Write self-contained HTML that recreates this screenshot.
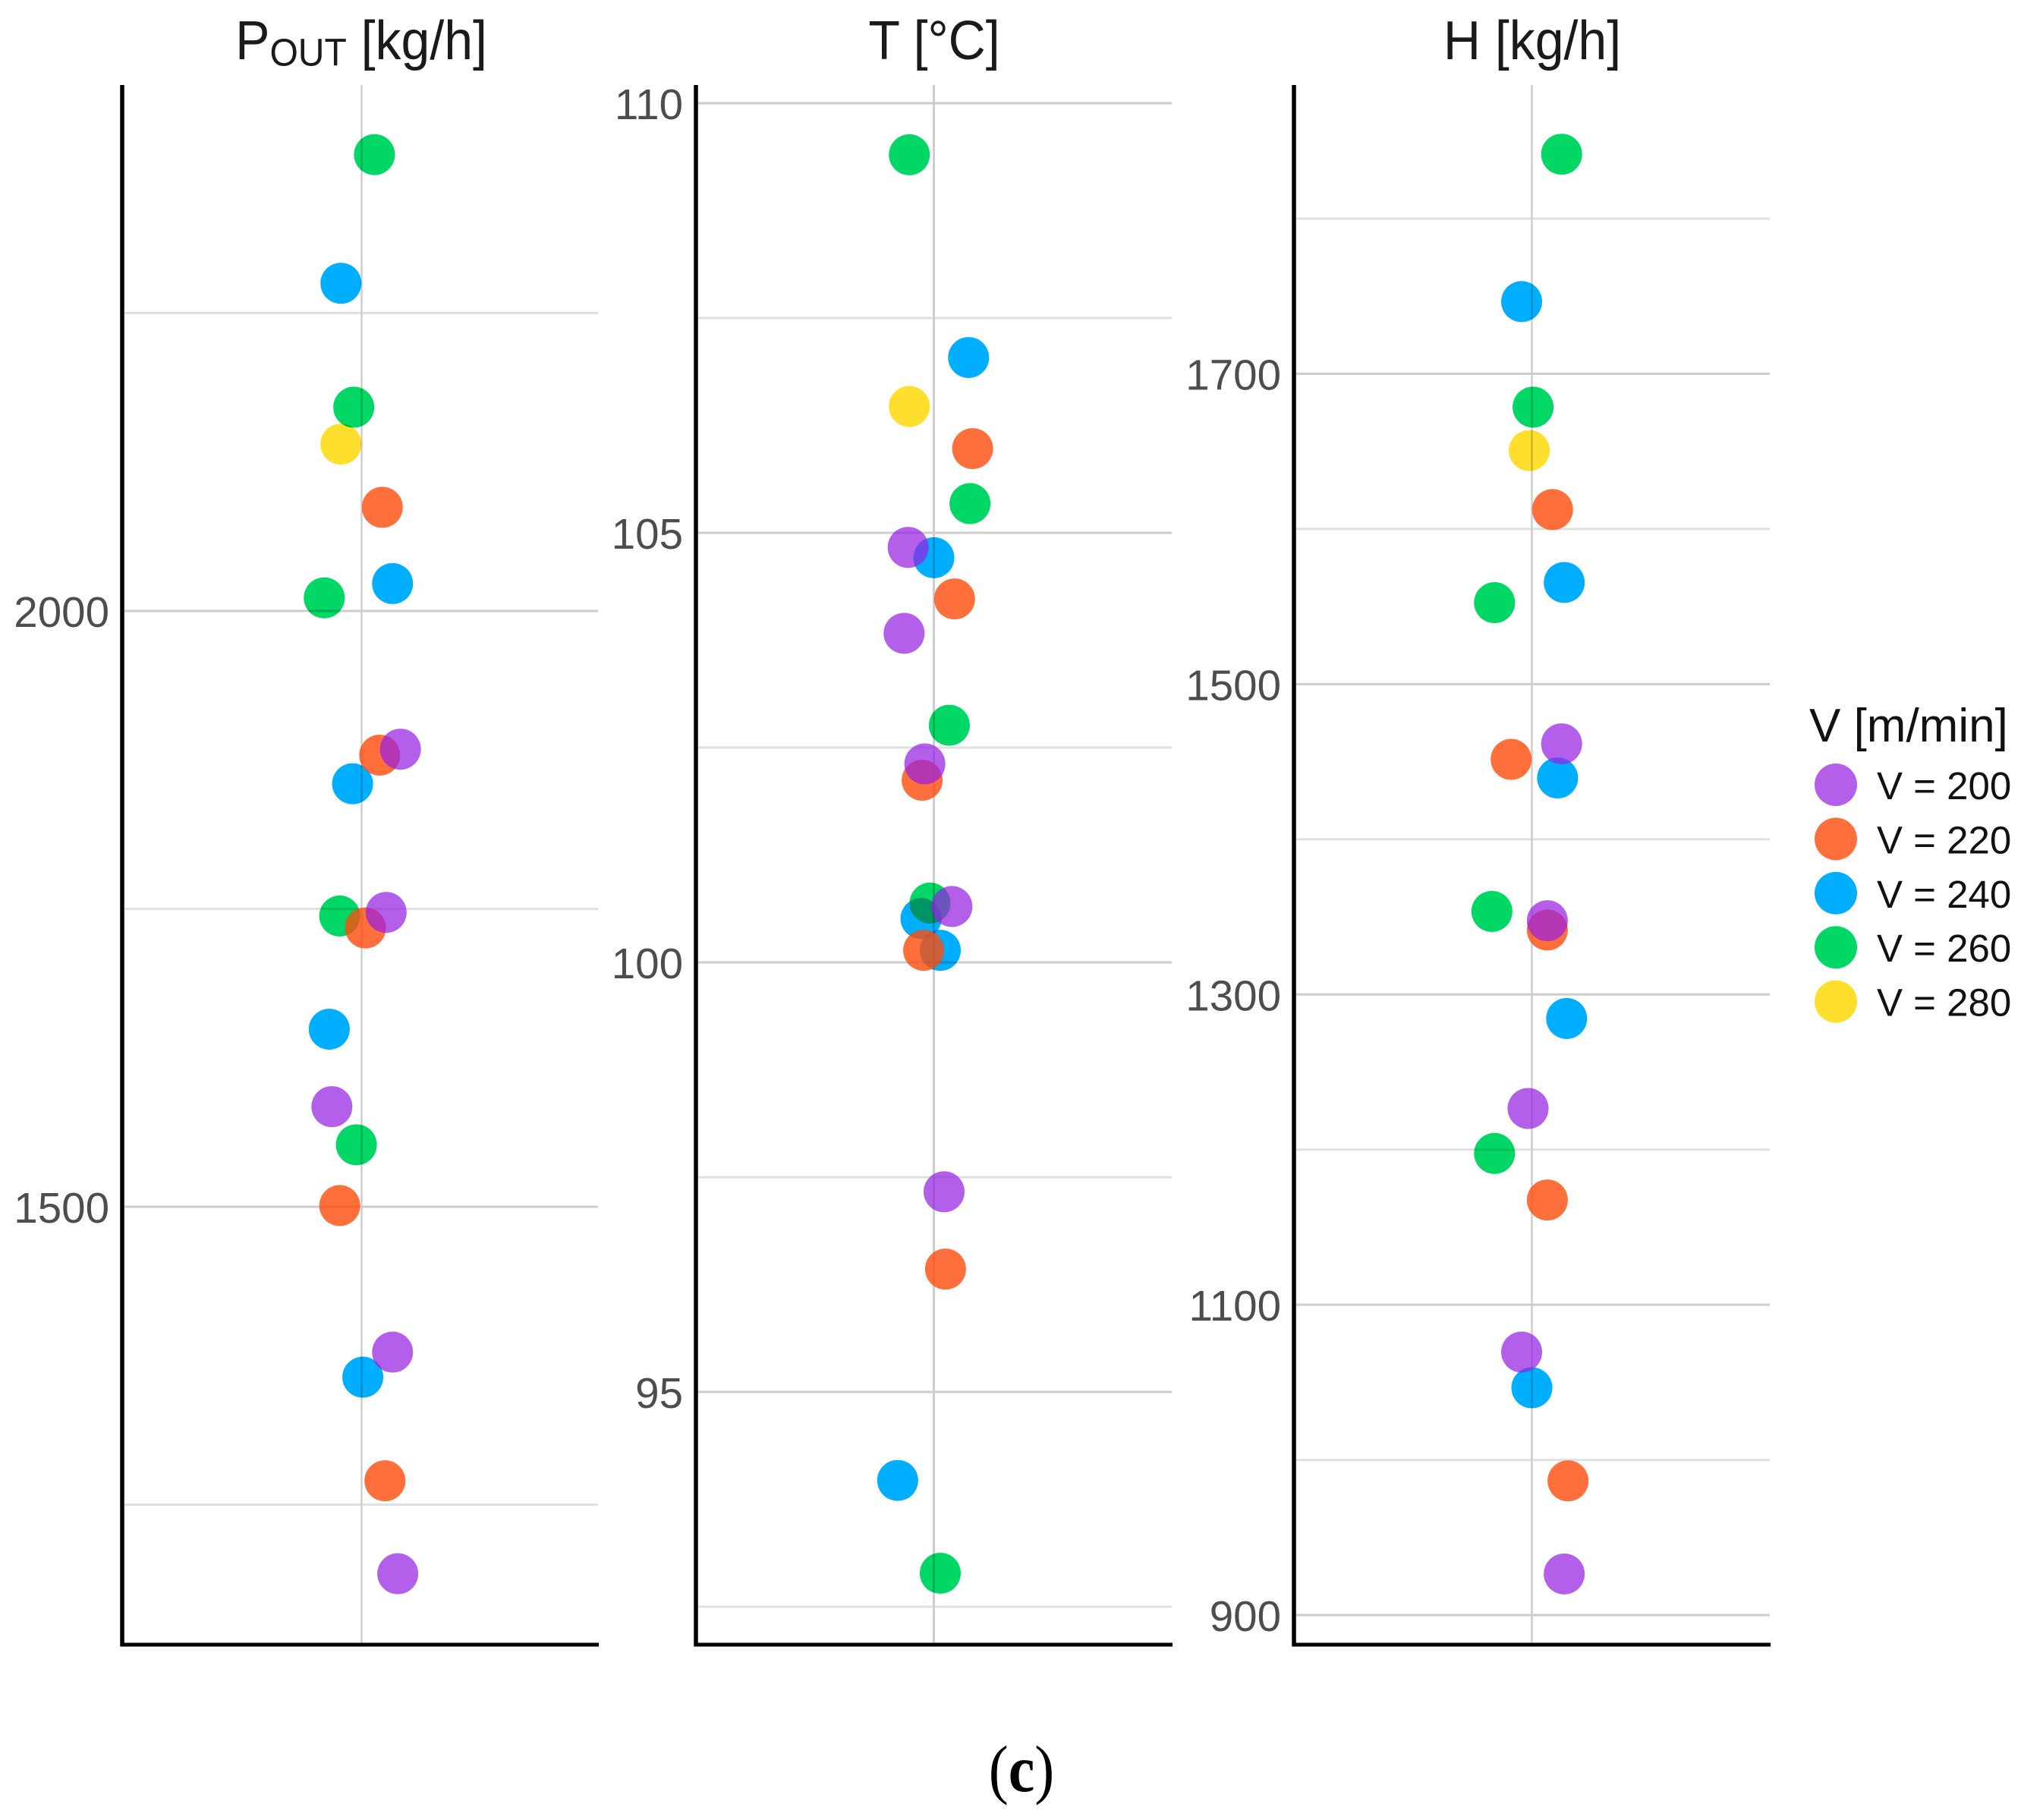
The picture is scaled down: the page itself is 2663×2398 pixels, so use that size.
<!DOCTYPE html>
<html>
<head>
<meta charset="utf-8">
<title>Strip plots by V</title>
<style>
html,body{margin:0;padding:0;background:#fff;}
svg{display:block;}
text{font-family:"Liberation Sans",sans-serif;}
</style>
</head>
<body>
<svg id="chart" xmlns="http://www.w3.org/2000/svg" width="2663" height="2398" viewBox="0 0 2663 2398">
<rect width="2663" height="2398" fill="#fff"/>
<text transform="translate(476,78) scale(1,1.06)" text-anchor="middle" font-size="68" fill="#1a1a1a">P<tspan font-size="48" dy="8">OUT</tspan><tspan dy="-8"> [kg/h]</tspan></text>
<text transform="translate(1231,78) scale(1,1.06)" text-anchor="middle" font-size="68" fill="#1a1a1a">T [°C]</text>
<text transform="translate(2019,78) scale(1,1.06)" text-anchor="middle" font-size="68" fill="#1a1a1a">H [kg/h]</text>
<text x="2384" y="977" font-size="62" fill="#111">V [m/min]</text>
<text transform="translate(1346,2360) scale(1,1.12)" text-anchor="middle" font-size="78" fill="#000" style="font-family:'Liberation Serif',serif">(<tspan font-weight="bold">c</tspan>)</text>
<g id="panels" style="isolation:isolate"></g>
<g id="legend"></g>
</svg>
<script>
// Speed levels and colours
const speeds = [200, 220, 240, 260, 280];
const speedColors = ['#9721e2', '#ff4b0b', '#00aeff', '#00d764', '#ffdf2e'];
const speedAlpha = [0.72, 0.8, 1, 1, 1];
const speedBlend = ['normal', 'normal', 'multiply', 'multiply', 'multiply'];

// P_OUT panel
const pOutMajorTicks = [2000, 1500];
const pOutMinorTicks = [2250, 1750, 1250];
const pOutV200 = [1884, 1747, 1584, 1378, 1192];
const pOutV200Jitter = [0.163, 0.103, -0.125, 0.130, 0.152];
const pOutV220 = [2087, 1879, 1734, 1501, 1270];
const pOutV220Jitter = [0.087, 0.076, 0.016, -0.092, 0.098];
const pOutV240 = [2275, 2023, 1855, 1649, 1357];
const pOutV240Jitter = [-0.087, 0.130, -0.038, -0.136, 0.005];
const pOutV260 = [2383, 2171, 2011, 1744, 1552];
const pOutV260Jitter = [0.054, -0.033, -0.157, -0.092, -0.022];
const pOutV280 = [2140];
const pOutV280Jitter = [-0.087];

// T panel
const tMajorTicks = [110, 105, 100, 95];
const tMinorTicks = [107.5, 102.5, 97.5, 92.5];
const tV200 = [104.83, 103.83, 102.31, 100.65, 97.33];
const tV200Jitter = [-0.108, -0.125, -0.038, 0.076, 0.043];
const tV220 = [105.98, 104.23, 102.12, 100.14, 96.43];
const tV220Jitter = [0.163, 0.087, -0.049, -0.043, 0.049];
const tV240 = [107.04, 104.71, 100.51, 100.14, 93.97];
const tV240Jitter = [0.146, 0, -0.054, 0.027, -0.152];
const tV260 = [109.40, 105.34, 102.76, 100.69, 92.89];
const tV260Jitter = [-0.103, 0.152, 0.065, -0.016, 0.027];
const tV280 = [106.47];
const tV280Jitter = [-0.103];

// H panel
const hMajorTicks = [1700, 1500, 1300, 1100, 900];
const hMinorTicks = [1800, 1600, 1400, 1200, 1000];
const hV200 = [1461.5, 1347.5, 1226.5, 1069.5, 926.5];
const hV200Jitter = [0.125, 0.065, -0.016, -0.043, 0.136];
const hV220 = [1612.5, 1451.5, 1341.5, 1167.5, 986.5];
const hV220Jitter = [0.087, -0.087, 0.065, 0.065, 0.152];
const hV240 = [1746.5, 1565.5, 1439.5, 1284.5, 1046.5];
const hV240Jitter = [-0.043, 0.136, 0.108, 0.146, 0];
const hV260 = [1841.5, 1678.5, 1552.5, 1353.5, 1197.5];
const hV260Jitter = [0.125, 0.005, -0.157, -0.168, -0.157];
const hV280 = [1650.5];
const hV280Jitter = [-0.011];

const NS = 'http://www.w3.org/2000/svg';
const plotTop = 112, plotBottom = 2167, plotWidth = 627, dotRadius = 27;

function make(parent, tag, attrs) {
  const el = document.createElementNS(NS, tag);
  for (const k in attrs) el.setAttribute(k, attrs[k]);
  parent.appendChild(el);
  return el;
}

function linearScale(d0, d1, r0, r1) {
  return v => r0 + (v - d0) * (r1 - r0) / (d1 - d0);
}

function drawPanel(cfg) {
  const g = make(document.getElementById('panels'), 'g', {});
  
  
  const left = cfg.left, right = left + plotWidth;
  const x = linearScale(-1, 1, left + cfg.shift, right + cfg.shift);
  const y = linearScale(cfg.calib[0], cfg.calib[1], cfg.calib[2], cfg.calib[3]);

  cfg.minor.forEach(t => {
    const l = make(g, 'line', {x1: left + 3, x2: right, y1: y(t), y2: y(t), stroke: '#e0e0e0', 'stroke-width': 3});
    
    
  });
  cfg.major.forEach(t => {
    const l = make(g, 'line', {x1: left + 3, x2: right, y1: y(t), y2: y(t), stroke: '#cdcdcd', 'stroke-width': 3});
    
    
    const txt = make(g, 'text', {x: left - 17, y: y(t) + 21, 'text-anchor': 'end', 'font-size': 56.5, fill: '#4d4d4d'});
    
    
    txt.textContent = t;
  });
  const v = make(g, 'line', {x1: x(0), x2: x(0), y1: plotTop, y2: plotBottom, stroke: '#cdcdcd', 'stroke-width': cfg.midWidth});
  
  
  const ya = make(g, 'line', {x1: left, x2: left, y1: plotTop, y2: plotBottom + 2.5, stroke: '#000', 'stroke-width': 5.5});
  
  
  const xa = make(g, 'line', {x1: left, x2: right + 1, y1: plotBottom, y2: plotBottom, stroke: '#000', 'stroke-width': 5});
  
  

  for (let s = speeds.length - 1; s >= 0; s--) {
    const vals = cfg.values[s], jit = cfg.jitter[s];
    vals.forEach((val, i) => {
      const c = make(g, 'circle', {cx: x(jit[i]), cy: y(val), r: dotRadius, fill: speedColors[s], 'fill-opacity': speedAlpha[s]});
      c.style.mixBlendMode = speedBlend[s];
      
      
    });
  }
}

drawPanel({
  name: 'pout', left: 161, shift: 2, midWidth: 2.5, calib: [2000, 1500, 805, 1590],
  major: pOutMajorTicks, minor: pOutMinorTicks,
  values: [pOutV200, pOutV220, pOutV240, pOutV260, pOutV280],
  jitter: [pOutV200Jitter, pOutV220Jitter, pOutV240Jitter, pOutV260Jitter, pOutV280Jitter]
});
drawPanel({
  name: 'temperature', left: 917, shift: 0, midWidth: 3, calib: [110, 95, 136, 1834],
  major: tMajorTicks, minor: tMinorTicks,
  values: [tV200, tV220, tV240, tV260, tV280],
  jitter: [tV200Jitter, tV220Jitter, tV240Jitter, tV260Jitter, tV280Jitter]
});
drawPanel({
  name: 'h', left: 1705, shift: 0, midWidth: 2.5, calib: [1700, 900, 492.5, 2128],
  major: hMajorTicks, minor: hMinorTicks,
  values: [hV200, hV220, hV240, hV260, hV280],
  jitter: [hV200Jitter, hV220Jitter, hV240Jitter, hV260Jitter, hV280Jitter]
});

const legend = document.getElementById('legend');
speeds.forEach((sp, i) => {
  const cy = 1034 + i * 71.4;
  const g = make(legend, 'g', {});
  
  
  make(g, 'circle', {cx: 2419, cy: cy, r: 28, fill: speedColors[i], 'fill-opacity': speedAlpha[i]});
  const t = make(g, 'text', {x: 2473, y: cy + 19, 'font-size': 51, fill: '#111'});
  t.textContent = 'V = ' + sp;
});
</script>
</body>
</html>
